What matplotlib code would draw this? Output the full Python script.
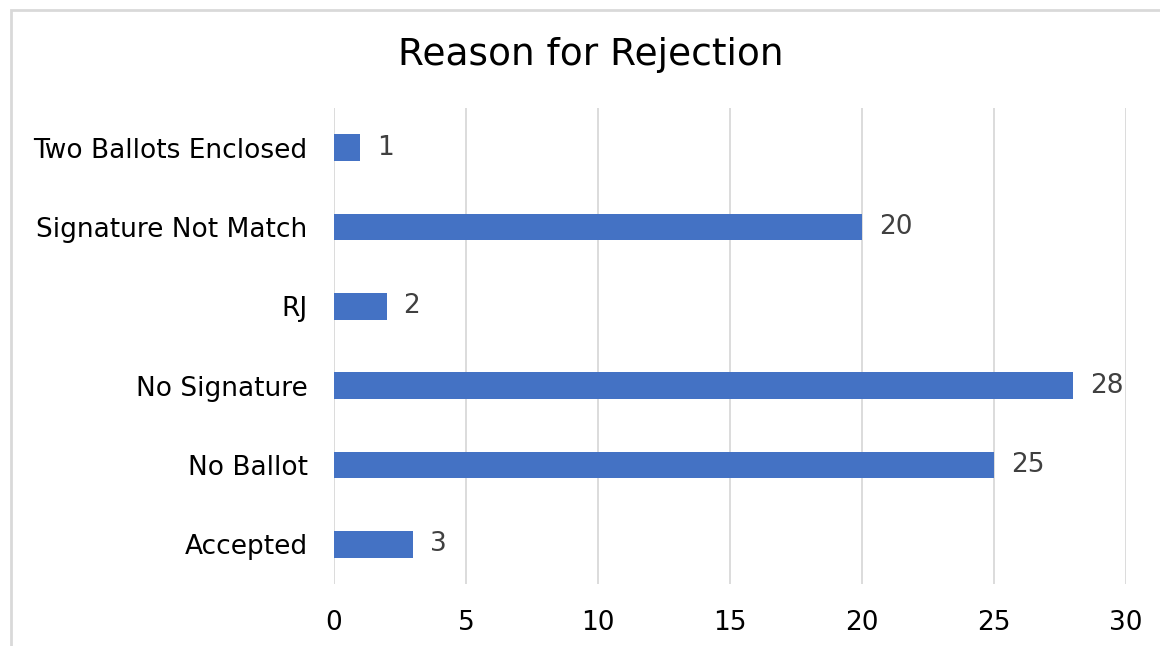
import matplotlib
matplotlib.use("Agg")
import matplotlib.pyplot as plt
from matplotlib.patches import Rectangle

categories = ["Accepted", "No Ballot", "No Signature", "RJ", "Signature Not Match", "Two Ballots Enclosed"]
counts = [3, 25, 28, 2, 20, 1]
xticks = [0, 5, 10, 15, 20, 25, 30]

plt.rcParams['font.family'] = ['DejaVu Sans']

fig = plt.figure(figsize=(11.6, 6.46), dpi=100)
fig.patch.set_facecolor("white")

# chart area border, running off the right and bottom edges
fig.patches.append(Rectangle((11 / 1160, -0.2), 1.5, 1.2 - 10 / 646,
                             transform=fig.transFigure, fill=False,
                             edgecolor="#d9d9d9", linewidth=2))

ax = fig.add_axes([334 / 1160, 1 - 584 / 646, 792 / 1160, 476 / 646])
bars = ax.barh(range(len(categories)), counts, height=0.34, color="#4472c4")

ax.set_xlim(0, 30)
ax.set_ylim(-0.5, len(categories) - 0.5)
ax.set_xticks(xticks)
ax.set_xticklabels([str(t) for t in xticks], fontsize=19)
ax.set_yticks(range(len(categories)))
ax.set_yticklabels(categories, fontsize=19)
ax.tick_params(length=0, pad=19, axis="y")
ax.tick_params(length=0, pad=19, axis="x")
ax.grid(axis="x", color="#d9d9d9", linewidth=1.3)
ax.set_axisbelow(True)
for s in ax.spines.values():
    s.set_visible(False)

for b, v in zip(bars, counts):
    ax.annotate(str(v), (v, b.get_y() + b.get_height() / 2), xytext=(12, 0),
                textcoords="offset points", ha="left", va="center",
                fontsize=19, color="#404040")

fig.text(591 / 1160, 1 - 55 / 646, "Reason for Rejection", ha="center", va="center",
         fontsize=27, color="black")

fig.savefig("out.png", dpi=100)
